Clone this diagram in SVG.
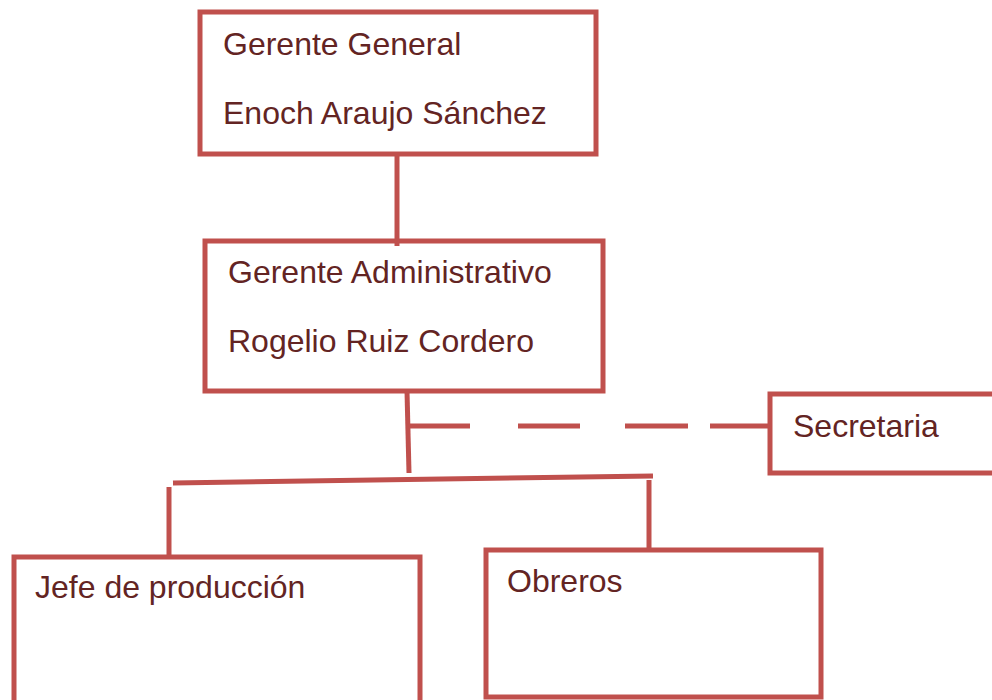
<svg xmlns="http://www.w3.org/2000/svg" width="992" height="700" viewBox="0 0 992 700">
<style>
.box{fill:#fff;stroke:#C0504D;stroke-width:5}
.ln{stroke:#C0504D;stroke-width:5;fill:none}
.t{font-family:"Liberation Sans",Arial,sans-serif;font-size:32px;fill:#632423}
</style>
<rect width="992" height="700" fill="#fff"/>
<g id="gerente-general">
<rect class="box" x="200" y="12" width="396" height="142"/>
<text class="t" x="223" y="55">Gerente General</text>
<text class="t" x="223" y="124">Enoch Araujo Sánchez</text>
</g>
<g id="gerente-administrativo">
<rect class="box" x="205" y="241" width="398" height="150"/>
<text class="t" x="228" y="283">Gerente Administrativo</text>
<text class="t" x="228" y="352">Rogelio Ruiz Cordero</text>
</g>
<g id="secretaria">
<rect class="box" x="770" y="394" width="240" height="79"/>
<text class="t" x="793" y="437">Secretaria</text>
</g>
<g id="jefe-produccion">
<rect class="box" x="14" y="557" width="406" height="160"/>
<text class="t" x="35" y="598">Jefe de producción</text>
</g>
<g id="obreros">
<rect class="box" x="486" y="550" width="335" height="147"/>
<text class="t" x="507" y="592">Obreros</text>
</g>
<g id="connectors">
<line class="ln" x1="397" y1="154" x2="397" y2="246"/>
<line class="ln" x1="407" y1="391" x2="409" y2="473"/>
<line class="ln" x1="409" y1="426" x2="770" y2="426" stroke-dasharray="61 48 62 45 63 22 60 0"/>
<line class="ln" x1="173" y1="483" x2="653" y2="476"/>
<line class="ln" x1="169" y1="487" x2="169" y2="556"/>
<line class="ln" x1="649" y1="480" x2="649" y2="550"/>
</g>
</svg>
